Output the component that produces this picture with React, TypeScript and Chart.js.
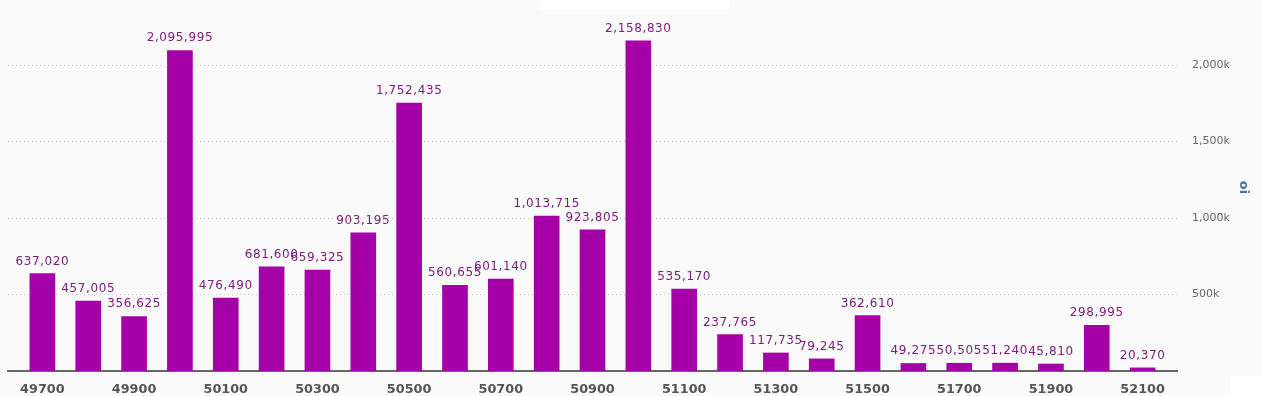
import React, { useEffect, useRef } from "react";
import { Chart, registerables } from "chart.js";

Chart.register(...registerables);

const strikes: number[] = [
  49700, 49800, 49900, 50000, 50100, 50200, 50300, 50400, 50500, 50600, 50700, 50800, 50900,
  51000, 51100, 51200, 51300, 51400, 51500, 51600, 51700, 51800, 51900, 52000, 52100,
];
const oiValues: number[] = [
  637020, 457005, 356625, 2095995, 476490, 681600, 659325, 903195, 1752435, 560655, 601140,
  1013715, 923805, 2158830, 535170, 237765, 117735, 79245, 362610, 49275, 50505, 51240, 45810,
  298995, 20370,
];
const yTickValues: number[] = [500000, 1000000, 1500000, 2000000];
const xTickStrikes: number[] = strikes.filter((_, i) => i % 2 === 0);
const axisTitle = "oi";

const BAR_COLOR = "#a500a8";
const LABEL_COLOR = "#7e1b80";

const bgPlugin = {
  id: "bgFill",
  beforeDraw(chart: any) {
    const { ctx, width, height } = chart;
    ctx.save();
    ctx.fillStyle = "#fafafa";
    ctx.fillRect(0, 0, width, height);
    ctx.restore();
  },
};

const labelPlugin = {
  id: "barLabels",
  afterDatasetsDraw(chart: any) {
    const { ctx } = chart;
    const meta = chart.getDatasetMeta(0);
    ctx.save();
    ctx.font = "12px 'DejaVu Sans'";
    (ctx as any).letterSpacing = "0.6px";
    ctx.fillStyle = LABEL_COLOR;
    ctx.textAlign = "center";
    ctx.textBaseline = "alphabetic";
    meta.data.forEach((bar: any, i: number) => {
      const v = oiValues[i];
      ctx.fillText(v.toLocaleString("en-US"), bar.x, bar.y - 9);
    });
    ctx.restore();
  },
};

export default function App() {
  const canvasRef = useRef<HTMLCanvasElement | null>(null);

  useEffect(() => {
    if (!canvasRef.current) return;
    const chart = new Chart(canvasRef.current, {
      type: "bar",
      data: {
        datasets: [
          {
            label: axisTitle,
            data: strikes.map((s, i) => ({ x: s, y: oiValues[i] })),
            backgroundColor: BAR_COLOR,
            borderWidth: 0,
            barThickness: 25,
          },
        ],
      },
      options: {
        animation: false,
        responsive: true,
        maintainAspectRatio: false,
        layout: { padding: { left: 8, top: 4, right: 0, bottom: 0 } },
        plugins: {
          legend: { display: false },
          tooltip: { enabled: false },
        },
        scales: {
          x: {
            type: "linear",
            offset: false,
            min: 49625,
            max: 52175,
            grid: { display: false, drawTicks: false },
            border: { display: true, color: "#666666", width: 2 },
            afterBuildTicks: (scale: any) => {
              scale.ticks = xTickStrikes.map((v) => ({ value: v }));
            },
            afterFit: (scale: any) => {
              scale.height = 25;
            },
            ticks: {
              autoSkip: false,
              maxRotation: 0,
              padding: 11,
              color: "#555555",
              font: { family: "'DejaVu Sans'", size: 12.8, weight: "bold" },
              callback: (v: any) => String(v),
            },
          },
          y: {
            position: "right",
            min: 0,
            max: 2400000,
            afterBuildTicks: (scale: any) => {
              scale.ticks = yTickValues.map((v) => ({ value: v }));
            },
            afterFit: (scale: any) => {
              scale.width = 84;
            },
            grid: {
              color: "#c8c8c8",
              lineWidth: 1,
              drawTicks: true,
              tickLength: 15,
              tickColor: "rgba(0,0,0,0)",
            },
            border: { display: false, dash: [1, 3] },
            ticks: {
              padding: 0,
              color: "#666666",
              font: { family: "'DejaVu Sans'", size: 11, lineHeight: 0.6 },
              callback: (v: any) => (Number(v) / 1000).toLocaleString("en-US") + "k",
            },
            title: {
              display: true,
              text: axisTitle,
              color: "#4d759e",
              font: { family: "'DejaVu Sans'", size: 13, weight: "bold" },
              padding: { top: 10, bottom: 0 },
            },
          },
        },
      } as any,
      plugins: [bgPlugin, labelPlugin],
    });
    return () => chart.destroy();
  }, []);

  return (
    <div style={{ position: "fixed", left: 0, top: 0, width: 1261, height: 396 }}>
      <canvas ref={canvasRef} />
      <div style={{ position: "absolute", left: 541, top: 0, width: 188, height: 10, background: "#ffffff" }} />
      <div style={{ position: "absolute", left: 1230, top: 376, width: 31, height: 20, background: "#ffffff" }} />
    </div>
  );
}
